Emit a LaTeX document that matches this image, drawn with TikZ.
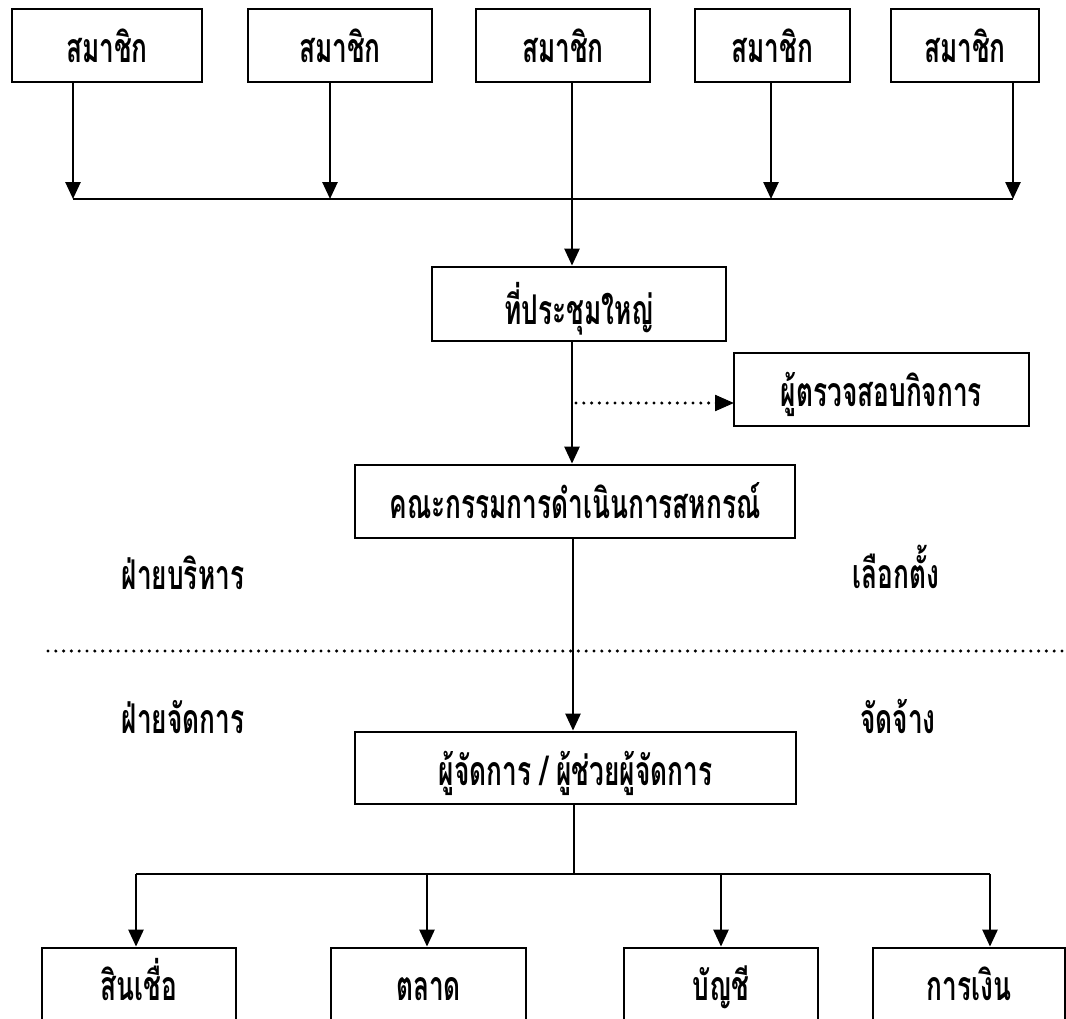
\documentclass[tikz,border=0pt]{standalone}
\usepackage{fontspec}
\newfontfamily\thaifont[Script=Thai,FakeStretch=0.64]{Loma}
\usetikzlibrary{arrows.meta}
\begin{document}
\begin{tikzpicture}[x=1pt,y=-1pt,
  txt/.style={font=\thaifont\bfseries\fontsize{41}{44}\selectfont, inner sep=0pt},
  box/.style={txt, draw, line width=2.8pt, minimum height=73pt, text height=34pt, text depth=0pt},
  ln/.style={line width=2.6pt},
  arr/.style={line width=2.6pt, -{Triangle[length=17pt,width=15pt]}},
  dots/.style={line width=3.4pt, line cap=round, dash pattern=on 0pt off 7.8pt}]
\useasboundingbox (0,0) rectangle (1066,1018);
% members
\node[box, minimum width=190pt] (m1) at (107,45.5) {สมาชิก};
\node[box, minimum width=184pt] (m2) at (340,45.5) {สมาชิก};
\node[box, minimum width=174pt] (m3) at (563,45.5) {สมาชิก};
\node[box, minimum width=155pt] (m4) at (772.5,45.5) {สมาชิก};
\node[box, minimum width=148pt] (m5) at (965,45.5) {สมาชิก};
\node[box, minimum width=294pt, minimum height=74pt, text height=40pt] (gm) at (579,304) {ที่ประชุมใหญ่};
\node[box, minimum width=295pt] (aud) at (881.5,389.5) {ผู้ตรวจสอบกิจการ};
\node[box, minimum width=440pt] (board) at (575,501.5) {คณะกรรมการดำเนินการสหกรณ์};
\node[box, minimum width=441pt, minimum height=72pt] (mgr) at (575.5,768) {ผู้จัดการ / ผู้ช่วยผู้จัดการ};
% bottom departments (boxes run off the lower edge)
\node[box, minimum width=194pt, minimum height=100pt] (s1) at (139,998) {};
\node[box, minimum width=195pt, minimum height=100pt] (s2) at (428.5,998) {};
\node[box, minimum width=194pt, minimum height=100pt] (s3) at (721,998) {};
\node[box, minimum width=192pt, minimum height=100pt] (s4) at (969,998) {};
\node[txt, anchor=base, text depth=0pt] (s1t) at (139,1000) {สินเชื่อ};
\node[txt, anchor=base, text depth=0pt] (s2t) at (428.5,1000) {ตลาด};
\node[txt, anchor=base, text depth=0pt] (s3t) at (721,1000) {บัญชี};
\node[txt, anchor=base, text depth=0pt] (s4t) at (969,1000) {การเงิน};
% labels
\node[txt, anchor=base] (l1) at (183,589) {ฝ่ายบริหาร};
\node[txt, anchor=base] (l2) at (896,588) {เลือกตั้ง};
\node[txt, anchor=base] (l3) at (183,733) {ฝ่ายจัดการ};
\node[txt, anchor=base] (l4) at (898,733) {จัดจ้าง};
% bus
\coordinate (b1) at (73,199);
\coordinate (b2) at (330,199);
\coordinate (bc) at (572,199);
\coordinate (b4) at (771,199);
\coordinate (b5) at (1013,199);
\draw[arr] (m1.south -| b1) -- (b1);
\draw[arr] (m2.south -| b2) -- (b2);
\draw[arr] (m4.south -| b4) -- (b4);
\draw[arr] (m5.south -| b5) -- (b5);
\draw[ln] (b1) -- (b5);
\draw[arr] (m3.south -| bc) -- (gm.north -| bc);
\draw[arr] (gm.south -| bc) -- (board.north -| bc);
\coordinate (dj) at (576,403);
\draw[dots] (dj) -- ([xshift=-16pt]aud.west |- dj);
\draw[fill, line width=1pt] (aud.west |- dj) -- ++(-17,-7.5) -- ++(0,15) -- cycle;
\coordinate (sepL) at (48,651);
\coordinate (sepR) at (1066,651);
\draw[dots] (sepL) -- (sepR);
\coordinate (bc2) at (573,0);
\draw[arr] (board.south -| bc2) -- (mgr.north -| bc2);
% branches
\coordinate (r0) at (574,874);
\coordinate (r1) at (136,874);
\coordinate (r2) at (427,874);
\coordinate (r3) at (721,874);
\coordinate (r4) at (990,874);
\draw[ln] (mgr.south -| r0) -- (r0);
\draw[ln] (r1) -- (r4);
\draw[arr] (r1) -- (s1.north -| r1);
\draw[arr] (r2) -- (s2.north -| r2);
\draw[arr] (r3) -- (s3.north -| r3);
\draw[arr] (r4) -- (s4.north -| r4);
\end{tikzpicture}
\end{document}
